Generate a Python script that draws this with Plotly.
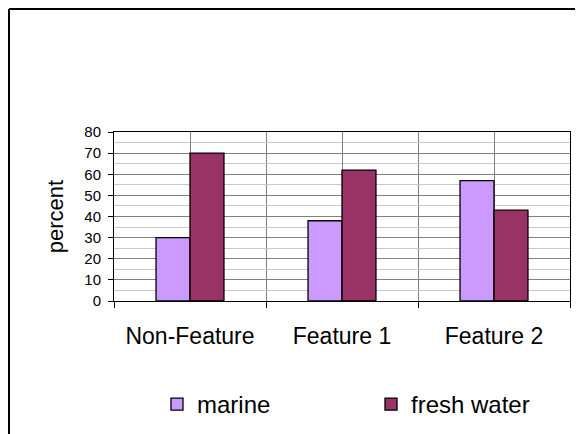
import plotly.graph_objects as go

categories = ["Non-Feature", "Feature 1", "Feature 2"]
marine = [30, 38, 57]
fresh_water = [70, 62, 43]
y_ticks = [0, 10, 20, 30, 40, 50, 60, 70, 80]

xpos = list(range(len(categories)))

fig = go.Figure()
fig.add_trace(go.Bar(x=xpos, y=marine, name="marine", legend="legend",
                     marker=dict(color="#CC99FF", line=dict(color="black", width=1.3))))
fig.add_trace(go.Bar(x=xpos, y=fresh_water, name="fresh water", legend="legend2",
                     marker=dict(color="#993366", line=dict(color="black", width=1.3))))

# page body has an 8px margin, so the figure is drawn 8px in from the window edge
OFF = 8
FW, FH = 583 - OFF, 434 - OFF
# plot area in window pixels: x 114..570, y 132..301
L, R, T, B = 114 - OFF, 570 - OFF, 132 - OFF, 301 - OFF
W, H = R - L, B - T

def px_x(p):
    return (p - OFF - L) / W

def px_y(p):
    return (B - (p - OFF)) / H

leg_common = dict(orientation="h", yanchor="top", xanchor="left",
                  font=dict(size=24), itemwidth=30, bgcolor="rgba(0,0,0,0)")

fig.update_layout(
    width=FW, height=FH,
    margin=dict(l=L, r=FW - R, t=T, b=FH - B, autoexpand=False),
    paper_bgcolor="white", plot_bgcolor="white",
    barmode="group", bargap=0.553, bargroupgap=0,
    font=dict(family="Liberation Sans, Arial, sans-serif", color="black"),
    showlegend=True,
    legend=dict(x=px_x(157), y=px_y(382), **leg_common),
    legend2=dict(x=px_x(371), y=px_y(382), **leg_common),
    xaxis=dict(range=[-0.5, 2.5], tickmode="array", tickvals=xpos, ticktext=categories,
               showgrid=True, gridcolor="#808080", gridwidth=1, ticks="",
               tickfont=dict(size=23), ticklabelstandoff=14,
               showline=True, linecolor="black", linewidth=1, mirror=True, zeroline=False,
               minor=dict(tick0=0.5, dtick=1, showgrid=True, gridcolor="#808080",
                          ticks="outside", ticklen=6, tickcolor="black")),
    yaxis=dict(range=[0, 80], tickmode="array", tickvals=y_ticks,
               showgrid=True, gridcolor="#808080", gridwidth=1,
               ticks="outside", ticklen=5, tickcolor="black",
               tickfont=dict(size=15), ticklabelstandoff=4,
               title=dict(text="percent", font=dict(size=22), standoff=14),
               showline=True, linecolor="black", linewidth=1, mirror=True, zeroline=False,
               minor=dict(tick0=5, dtick=10, showgrid=True, gridcolor="#C8C8C8", ticks="")),
    shapes=[
        dict(type="line", xref="paper", yref="paper", x0=px_x(9), x1=px_x(9),
             y0=px_y(9), y1=px_y(440), line=dict(color="black", width=2)),
        dict(type="line", xref="paper", yref="paper", x0=px_x(9), x1=px_x(590),
             y0=px_y(9), y1=px_y(9), line=dict(color="black", width=2)),
    ],
)

fig.write_html("out.html")
